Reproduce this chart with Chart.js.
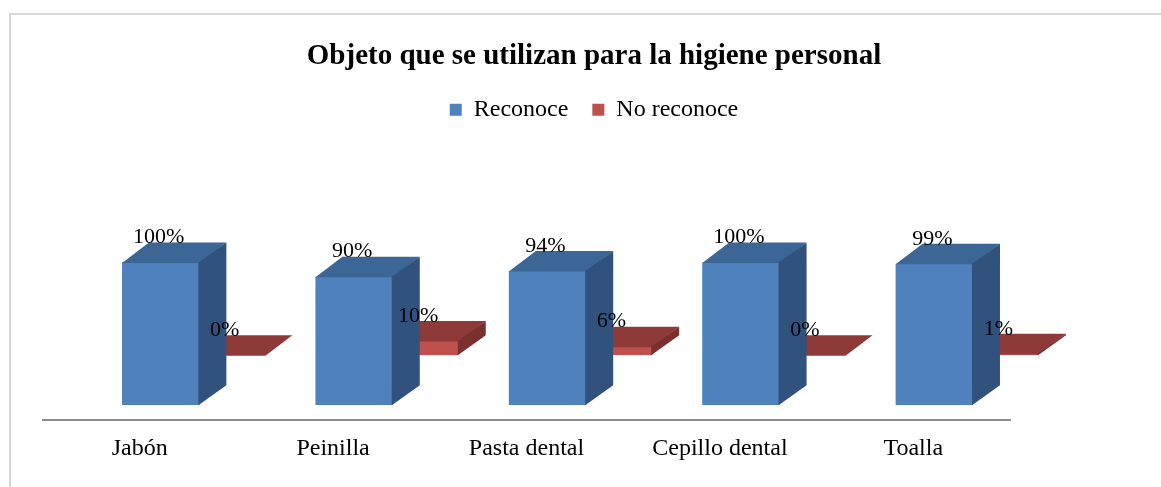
<!DOCTYPE html>
<html lang="es">
<head>
  <meta charset="UTF-8" />
  <title>Objeto que se utilizan para la higiene personal</title>
  <style>
    html, body {
      margin: 0;
      padding: 0;
      background: #ffffff;
      overflow: hidden;
    }
    .frame {
      position: absolute;
      left: 9px;
      top: 13px;
      width: 1300px;
      height: 600px;
      border: 2px solid #d9d9d9;
    }
    .chart-box {
      position: absolute;
      left: 0;
      top: 0;
      width: 1161px;
      height: 487px;
    }
  </style>
  <script src="https://cdn.jsdelivr.net/npm/chart.js"></script>
</head>
<body>
  <div class="frame"></div>
  <div class="chart-box"><canvas id="chart"></canvas></div>

  <script>
    const categories = ["Jabón", "Peinilla", "Pasta dental", "Cepillo dental", "Toalla"];
    const reconoce = [100, 90, 94, 100, 99];
    const noReconoce = [0, 10, 6, 0, 1];

    const serif = "'Liberation Serif', 'Times New Roman', serif";

    // shading for the fake 3d faces
    const faces = [
      { front: "#4F81BD", top: "#3C6696", side: "#30527D" },
      { front: "#C0504D", top: "#8E3A38", side: "#7A302E" }
    ];
    // red row sits behind the blue one
    const shift = [{ x: 21, y: -15 }, { x: 87, y: -65 }];
    const depth = { x: 27, y: -20 };

    const bars3d = {
      id: "bars3d",
      beforeDatasetDraw(chart, args) {
        const s = shift[args.index];
        chart.ctx.save();
        chart.ctx.translate(s.x, s.y);
      },
      afterDatasetDraw(chart, args) {
        const ctx = chart.ctx;
        const c = faces[args.index];
        args.meta.data.forEach(el => {
          const l = el.x - el.width / 2, r = el.x + el.width / 2;
          ctx.fillStyle = c.top;
          ctx.beginPath();
          ctx.moveTo(l, el.y + 0.5);
          ctx.lineTo(r, el.y + 0.5);
          ctx.lineTo(r + depth.x, el.y + depth.y);
          ctx.lineTo(l + depth.x, el.y + depth.y);
          ctx.closePath();
          ctx.fill();
          // overlap the front a little so no seam shows
          ctx.fillStyle = c.side;
          ctx.beginPath();
          ctx.moveTo(r - 1, el.y);
          ctx.lineTo(r + depth.x, el.y + depth.y);
          ctx.lineTo(r + depth.x, el.base + depth.y);
          ctx.lineTo(r - 1, el.base);
          ctx.closePath();
          ctx.fill();
        });
        ctx.restore();
      },
      afterDatasetsDraw(chart) {
        const ctx = chart.ctx;
        ctx.save();
        ctx.font = "22px " + serif;
        ctx.fillStyle = "#000000";
        ctx.textAlign = "center";
        ctx.textBaseline = "middle";
        chart.data.datasets.forEach((ds, i) => {
          const s = shift[i];
          chart.getDatasetMeta(i).data.forEach((el, j) => {
            ctx.fillText(ds.data[j] + "%", el.x + s.x - 2, el.y + s.y - 25);
          });
        });
        ctx.restore();
      }
    };

    new Chart(document.getElementById("chart"), {
      type: "bar",
      data: {
        labels: categories,
        datasets: [
          {
            label: "Reconoce",
            data: reconoce,
            backgroundColor: faces[0].front,
            borderWidth: 0,
            grouped: false
          },
          {
            label: "No reconoce",
            data: noReconoce,
            backgroundColor: faces[1].front,
            borderWidth: 0,
            grouped: false
          }
        ]
      },
      options: {
        responsive: true,
        maintainAspectRatio: false,
        animation: false,
        categoryPercentage: 1,
        barPercentage: 0.4,
        layout: { padding: { left: 43, right: 16, top: 14, bottom: 10 } },
        plugins: {
          title: {
            display: true,
            text: "Objeto que se utilizan para la higiene personal",
            color: "#000000",
            font: { family: serif, size: 29, weight: "bold" },
            padding: { top: 25, bottom: 0 }
          },
          legend: {
            labels: {
              color: "#000000",
              font: { family: serif, size: 24 },
              boxWidth: 12,
              boxHeight: 12,
              padding: 24
            }
          },
          tooltip: { enabled: false }
        },
        scales: {
          x: {
            grid: { display: false, drawTicks: false },
            border: { display: true, color: "#8c8c8c", width: 2 },
            ticks: { color: "#000000", font: { family: serif, size: 24 }, padding: 14, maxRotation: 0 }
          },
          y: {
            position: "right",
            min: 0,
            max: 202,
            grid: { display: false, drawTicks: false },
            border: { display: false },
            ticks: { display: false },
            afterFit(scale) { scale.width = 135; }
          }
        }
      },
      plugins: [bars3d]
    });
  </script>
</body>
</html>
